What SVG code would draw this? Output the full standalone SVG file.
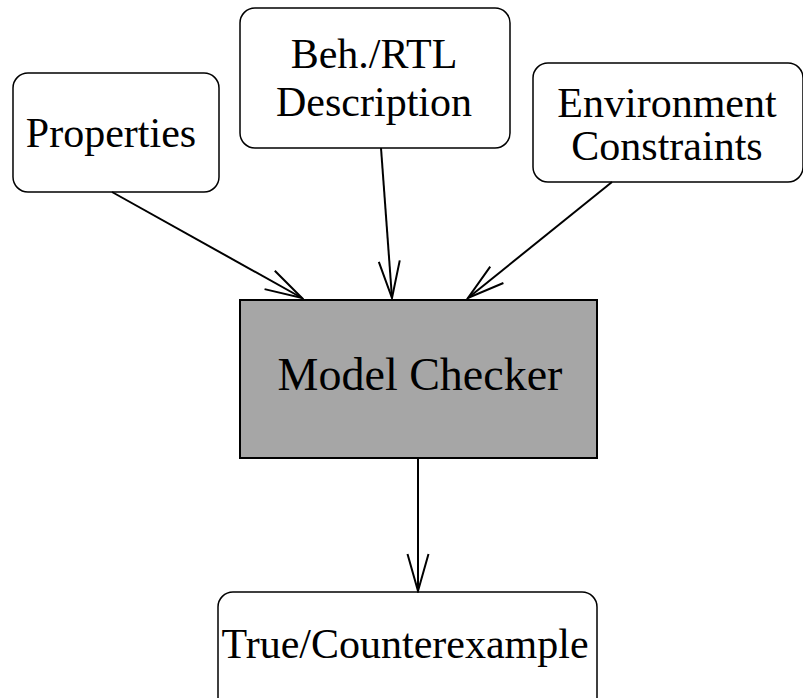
<svg xmlns="http://www.w3.org/2000/svg" width="803" height="698" viewBox="0 0 803 698">
  <style>
    .box { fill: #ffffff; stroke: #000000; stroke-width: 1.5; }
    .core { fill: #a6a6a6; stroke: #000000; stroke-width: 2; }
    .label { font-family: "Liberation Serif", "Times New Roman", serif; font-size: 42px; fill: #000000; text-anchor: middle; }
    .big { font-size: 46px; }
    .edge { fill: none; stroke: #000000; stroke-width: 2; marker-end: url(#vee); }
  </style>
  <defs>
    <!-- open V arrowhead drawn back from the line end -->
    <marker id="vee" viewBox="-40 -13 42 26" refX="0" refY="0" markerWidth="42" markerHeight="26" markerUnits="userSpaceOnUse" orient="auto">
      <path d="M -37 -10.5 L 0 0 L -37 10.5" fill="none" stroke="#000000" stroke-width="2"/>
    </marker>
  </defs>

  <g id="properties">
    <rect class="box" x="13" y="73" width="206" height="119" rx="15"/>
    <text class="label" x="111" y="147">Properties</text>
  </g>

  <g id="description">
    <rect class="box" x="240" y="8" width="270" height="140" rx="15"/>
    <text class="label" x="374" y="68">Beh./RTL</text>
    <text class="label" x="374" y="116">Description</text>
  </g>

  <g id="constraints">
    <rect class="box" x="533" y="63" width="270" height="119" rx="15"/>
    <text class="label" x="667" y="117">Environment</text>
    <text class="label" x="667" y="160">Constraints</text>
  </g>

  <g id="model-checker">
    <rect class="core" x="240" y="300" width="357" height="158"/>
    <text class="label big" x="420" y="390">Model Checker</text>
  </g>

  <g id="result">
    <rect class="box" x="218" y="592" width="379" height="130" rx="15"/>
    <text class="label" x="405" y="658">True/Counterexample</text>
  </g>

  <g id="connectors">
    <line class="edge" x1="112" y1="192" x2="302" y2="298"/>
    <line class="edge" x1="381" y1="148" x2="392" y2="298"/>
    <line class="edge" x1="612" y1="182" x2="468" y2="298"/>
    <line class="edge" x1="418" y1="458" x2="418" y2="591"/>
  </g>
</svg>
